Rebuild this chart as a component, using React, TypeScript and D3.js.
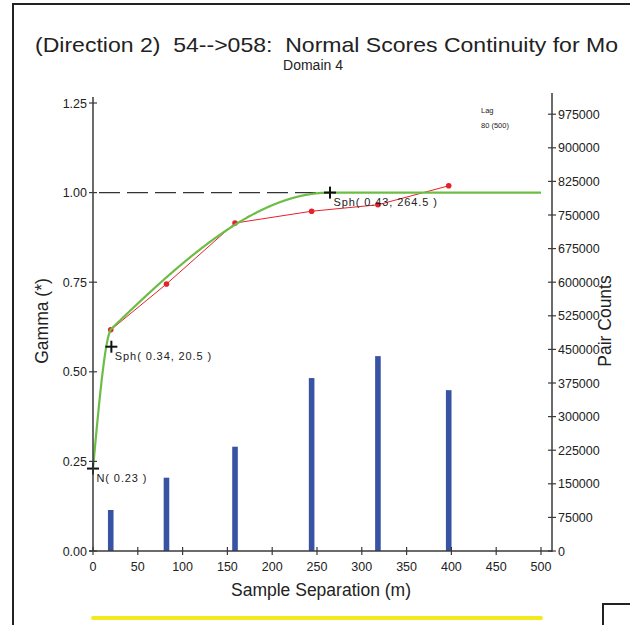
import React from "react";
import * as d3 from "d3";

// ---- data ----
const lags = [19.8, 82, 158.5, 244, 318, 397];
const gammaValues = [0.617, 0.745, 0.915, 0.948, 0.966, 1.019];
const pairCounts = [91500, 163600, 232800, 386000, 435000, 359000];
const nugget = 0.23;
const structureSills = [0.34, 0.43];
const structureRanges = [20.5, 264.5];
const xTicks = [0, 50, 100, 150, 200, 250, 300, 350, 400, 450, 500];
const yTicks = [0, 0.25, 0.5, 0.75, 1.0, 1.25];
const countTicks = [0, 75000, 150000, 225000, 300000, 375000, 450000, 525000, 600000, 675000, 750000, 825000, 900000, 975000];
const titleText = "(Direction 2)  54-->058:  Normal Scores Continuity for Mo";
const subtitleText = "Domain 4";
const lagLegend = ["Lag", "80 (500)"];

const FONT = "'Liberation Sans', Arial, sans-serif";

function sph(h: number, a: number) {
  if (h >= a) return 1;
  const r = h / a;
  return 1.5 * r - 0.5 * r * r * r;
}
function model(h: number) {
  let g = nugget;
  structureSills.forEach((c, i) => (g += c * sph(h, structureRanges[i])));
  return g;
}

export default function App() {
  const x = d3.scaleLinear().domain([0, 500]).range([93, 541]);
  const y = d3.scaleLinear().domain([0, 1.25]).range([551, 103]);
  const yc = d3.scaleLinear().domain([0, 1000000]).range([551, 103]);

  const hs = d3.range(0, 500.01, 0.5);
  const modelLine = d3
    .line<number>()
    .x((h) => x(h))
    .y((h) => y(model(h)))(hs) as string;

  const expLine = d3
    .line<number>()
    .x((_, i) => x(lags[i]))
    .y((g) => y(g))(gammaValues) as string;

  // markers: nugget, then cumulative sills at ranges
  const markers: { h: number; g: number; label: string }[] = [
    { h: 0, g: nugget, label: `N( ${nugget.toFixed(2)} )` },
  ];
  let cum = nugget;
  structureSills.forEach((c, i) => {
    cum += c;
    markers.push({ h: structureRanges[i], g: cum, label: `Sph( ${c.toFixed(2)}, ${structureRanges[i]} )` });
  });
  const totalSill = cum;

  const axisColor = "#3a3a3a";
  const textColor = "#222";

  return (
    <svg
      width={630}
      height={625}
      style={{ position: "absolute", left: 0, top: 0, background: "#fff" }}
      fontFamily={FONT}
    >
      {/* frame */}
      <line x1={13} y1={4} x2={13} y2={625} stroke="#222" strokeWidth={2} />
      <line x1={12} y1={4} x2={630} y2={4} stroke="#222" strokeWidth={2} />
      <line x1={603} y1={604} x2={603} y2={625} stroke="#222" strokeWidth={2} />
      <line x1={602} y1={604} x2={630} y2={604} stroke="#222" strokeWidth={2} />

      {/* titles */}
      <text x={35} y={52} fontSize={21} fill={textColor} textLength={583} lengthAdjust="spacingAndGlyphs" style={{ whiteSpace: "pre" }}>
        {titleText}
      </text>
      <text x={313} y={70} fontSize={14} fill={textColor} textAnchor="middle">
        {subtitleText}
      </text>

      {/* bars */}
      {pairCounts.map((c, i) => (
        <rect key={"b" + i} x={x(lags[i]) - 2.8} y={yc(c)} width={5.6} height={yc(0) - yc(c)} fill="#3953a4" />
      ))}

      {/* sill dashed line */}
      <line
        x1={x(0)}
        x2={x(structureRanges[structureRanges.length - 1])}
        y1={y(totalSill)}
        y2={y(totalSill)}
        stroke="#333"
        strokeWidth={1.2}
        strokeDasharray="21,7"
        strokeDashoffset={-6}
      />

      {/* experimental */}
      <path d={expLine} fill="none" stroke="#e8202a" strokeWidth={1} />
      {gammaValues.map((g, i) => (
        <circle key={"p" + i} cx={x(lags[i])} cy={y(g)} r={2.8} fill="#e8202a" />
      ))}

      {/* model */}
      <path d={modelLine} fill="none" stroke="#6cbd45" strokeWidth={2.2} />

      {/* markers */}
      {markers.map((m, i) => {
        const cx = x(m.h);
        const cy = y(m.g);
        return (
          <g key={"m" + i}>
            <line x1={cx - 6} x2={cx + 6} y1={cy} y2={cy} stroke="#111" strokeWidth={2} />
            <line x1={cx} x2={cx} y1={cy - 6} y2={cy + 6} stroke="#111" strokeWidth={2} />
            <text x={cx + 3.5} y={cy + 13} fontSize={11} fill={textColor} letterSpacing={0.9}>
              {m.label}
            </text>
          </g>
        );
      })}

      {/* axes */}
      <line x1={93} x2={93} y1={97} y2={551} stroke={axisColor} strokeWidth={1.5} />
      <line x1={552} x2={552} y1={93} y2={552} stroke={axisColor} strokeWidth={1.5} />
      <line x1={89} x2={552} y1={551} y2={551} stroke={axisColor} strokeWidth={1.5} />

      {xTicks.map((t) => (
        <g key={"xt" + t}>
          <line x1={x(t)} x2={x(t)} y1={547} y2={555} stroke={axisColor} strokeWidth={1.2} />
          <text x={x(t)} y={571} fontSize={12.5} textAnchor="middle" fill={textColor}>
            {t}
          </text>
        </g>
      ))}
      {yTicks.map((t) => (
        <g key={"yt" + t}>
          <line x1={89} x2={97} y1={y(t)} y2={y(t)} stroke={axisColor} strokeWidth={1.2} />
          <text x={87} y={y(t) + 4.5} fontSize={12.5} textAnchor="end" fill={textColor}>
            {t.toFixed(2)}
          </text>
        </g>
      ))}
      {countTicks.map((t) => (
        <g key={"ct" + t}>
          <line x1={548} x2={556} y1={yc(t)} y2={yc(t)} stroke={axisColor} strokeWidth={1.2} />
          <text x={558} y={yc(t) + 4.5} fontSize={12.5} fill={textColor}>
            {t}
          </text>
        </g>
      ))}

      {/* axis titles */}
      <text x={321} y={596} fontSize={17.5} textAnchor="middle" fill={textColor}>
        Sample Separation (m)
      </text>
      <text transform="translate(48,321) rotate(-90)" fontSize={17.5} textAnchor="middle" fill={textColor}>
        Gamma (*)
      </text>
      <text transform="translate(611,321) rotate(-90)" fontSize={17.5} textAnchor="middle" fill={textColor}>
        Pair Counts
      </text>

      {/* lag legend */}
      <text x={481} y={113} fontSize={7.5} fill={textColor}>
        {lagLegend[0]}
      </text>
      <text x={481} y={128} fontSize={7.5} fill={textColor}>
        {lagLegend[1]}
      </text>

      {/* yellow bar */}
      <line x1={93} x2={541} y1={618} y2={618} stroke="#f2ea1e" strokeWidth={4} strokeLinecap="round" />
    </svg>
  );
}
